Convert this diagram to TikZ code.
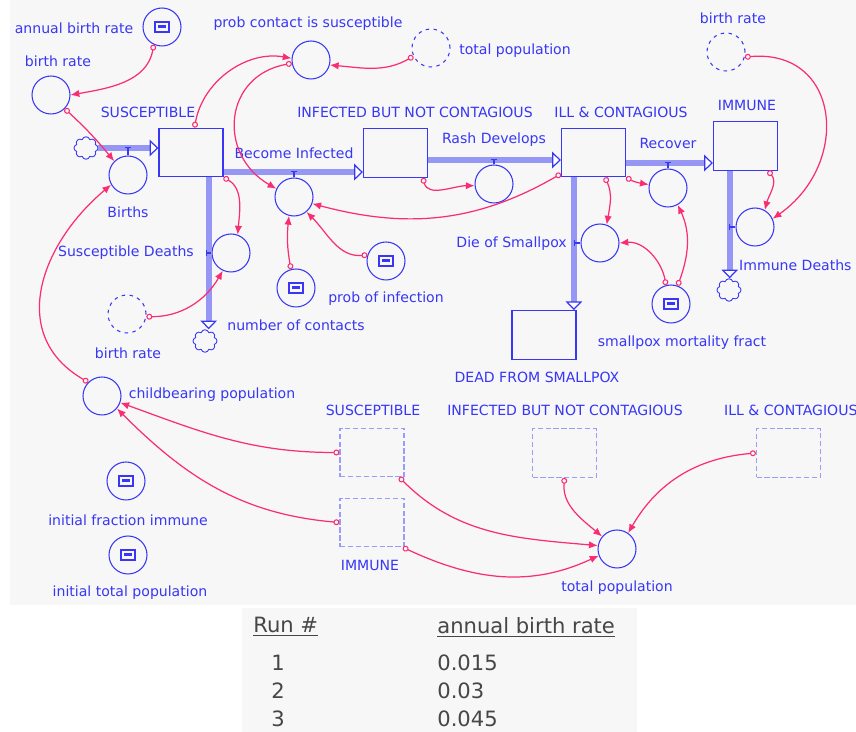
\documentclass[tikz,border=0pt]{standalone}
\usepackage{fontspec}
\setmainfont{DejaVu Sans}
\usetikzlibrary{arrows.meta,shapes.symbols}

\definecolor{sdblue}{RGB}{55,55,245}
\definecolor{sdpipe}{RGB}{150,150,245}
\definecolor{sdpink}{RGB}{250,45,115}
\definecolor{sdback}{RGB}{247,247,247}
\definecolor{tabtext}{RGB}{70,70,70}

\tikzset{
  stock/.style={draw=sdblue, line width=0.7pt, minimum width=1.28cm, minimum height=0.97cm, inner sep=0pt},
  ghoststock/.style={stock, draw=sdblue!50, dash pattern=on 3pt off 1.5pt},
  aux/.style={circle, draw=sdblue, line width=0.6pt, minimum size=0.76cm, inner sep=0pt},
  ghostaux/.style={aux, dash pattern=on 2pt off 2.5pt},
  sdconst/.style={aux, path picture={
      \draw[sdblue, line width=0.8pt] ([shift={(-4pt,-2.8pt)}]path picture bounding box.center) rectangle ([shift={(4pt,2.8pt)}]path picture bounding box.center);
      \fill[sdblue] ([shift={(-2.3pt,-0.6pt)}]path picture bounding box.center) rectangle ([shift={(2.3pt,1.2pt)}]path picture bounding box.center);}},
  sdcloud/.style={cloud, cloud puffs=8, aspect=1, draw=sdblue, line width=0.5pt, minimum width=0.48cm, minimum height=0.45cm, inner sep=0pt},
  txt/.style={text=sdblue, font=\fontsize{8}{9}\selectfont, inner sep=0.5pt},
  pipe/.style={draw=sdpipe, line width=3.6pt, -{Triangle[length=5pt,width=9.5pt,line width=0.7pt,color=sdblue,fill=white]}},
  valve/.style={draw=sdblue, line width=0.8pt},
  link/.style={draw=sdpink, line width=0.7pt, {Circle[open,length=3.4pt,width=3.4pt,line width=0.6pt]}-{Latex[length=5pt,width=4.2pt]}},
  tab/.style={text=tabtext, font=\fontsize{12}{14}\selectfont, inner sep=0pt}
}

\begin{document}
\begin{tikzpicture}[x=0.02cm, y=-0.02cm]
\useasboundingbox (0,0) rectangle (856,732);
\fill[sdback] (10,0) rectangle (856,605);
\fill[sdback] (242,608) rectangle (637,732);

% stocks
\node[stock] (sus) at (191,152.5) {};
\node[stock] (inf) at (395.5,153) {};
\node[stock] (ill) at (593.5,152.5) {};
\node[stock] (imm) at (745.5,146) {};
\node[stock] (dead) at (544,335) {};
\node[sdcloud] (src) at (86,148) {};
\node[sdcloud] (sink1) at (205,341) {};
\node[sdcloud] (sink2) at (729,290) {};

% flows
\node[aux] (births) at (128,175) {};
\node[aux] (becinf) at (294,197) {};
\node[aux] (rash) at (494,184) {};
\node[aux] (recover) at (668,188) {};
\node[aux] (sdeaths) at (231,253) {};
\node[aux] (dos) at (600,243) {};
\node[aux] (imdeaths) at (755,227) {};

\draw[pipe] (src.east) -- (src.east -| sus.west);
\draw[pipe] ([yshift=3pt]sus.south east) -- ([yshift=3pt]sus.south east -| inf.west);
\draw[pipe] ([yshift=-4pt]inf.east) -- ([yshift=-4pt]inf.east -| ill.west);
\draw[pipe] ([yshift=-6pt]ill.east) -- ([yshift=-6pt]ill.east -| imm.west);
\draw[pipe] ([xshift=-8.5pt]sus.south east) -- ([xshift=-8.5pt]sus.south east |- sink1.north);
\draw[pipe] ([xshift=7.4pt]ill.south west) -- ([xshift=7.4pt]ill.south west |- dead.north);
\draw[pipe] ([xshift=9.6pt]imm.south west) -- ([xshift=9.6pt]imm.south west |- sink2.north);

\draw[valve] (births.north) -- ++(0,-8) ++(-3,0) -- ++(6,0);
\draw[valve] (becinf.north) -- ++(0,-6) ++(-3,0) -- ++(6,0);
\draw[valve] (rash.north) -- ++(0,-5) ++(-3,0) -- ++(6,0);
\draw[valve] (recover.north) -- ++(0,-6) ++(-3,0) -- ++(6,0);
\draw[valve] (sdeaths.west) -- ++(-5,0) ++(0,-3) -- ++(0,6);
\draw[valve] (dos.west) -- ++(-6,0) ++(0,-3) -- ++(0,6);
\draw[valve] (imdeaths.west) -- ++(-6,0) ++(0,-3) -- ++(0,6);

% converters
\node[sdconst] (abr) at (162,27) {};
\node[aux] (br1) at (51,95) {};
\node[aux] (pcs) at (311,60) {};
\node[ghostaux] (tpop1) at (431,48) {};
\node[ghostaux] (br2) at (726,52) {};
\node[ghostaux] (br3) at (127,314) {};
\node[sdconst] (noc) at (296,288) {};
\node[sdconst] (poi) at (386,261) {};
\node[sdconst] (smf) at (671,304) {};
\node[aux] (cbp) at (102,396) {};
\node[sdconst] (ifi) at (126,481) {};
\node[sdconst] (itp) at (128,555) {};
\node[aux] (tpop2) at (617,549) {};

% ghost stocks
\node[ghoststock] (sghost) at (372,452.5) {};
\node[ghoststock] (ighost) at (372,522.5) {};
\node[ghoststock] (ifghost) at (564.5,453) {};
\node[ghoststock] (illghost) at (788.5,453) {};

% labels
\node[txt] (labr) at (74,28) {annual birth rate};
\node[txt] (lbr1) at (58,61) {birth rate};
\node[txt] (lsus) at (148,112) {SUSCEPTIBLE};
\node[txt] (lbirths) at (128,212) {Births};
\node[txt] (lpcs) at (308,24) {prob contact is susceptible};
\node[txt] (ltpop1) at (515,51) {total population};
\node[txt] (linf) at (415,112) {INFECTED BUT NOT CONTAGIOUS};
\node[txt] (lbecinf) at (294,153) {Become Infected};
\node[txt] (lrash) at (494,140) {Rash Develops};
\node[txt] (lill) at (621,112) {ILL \& CONTAGIOUS};
\node[txt] (lrecover) at (668,143) {Recover};
\node[txt] (limm) at (747,105) {IMMUNE};
\node[txt] (lbr2) at (733,18) {birth rate};
\node[txt, anchor=east] (lsdeaths) at (195,253) {Susceptible Deaths};
\node[txt, anchor=east] (ldos) at (568,244) {Die of Smallpox};
\node[txt, anchor=west] (limdeaths) at (738,265) {Immune Deaths};
\node[txt] (lbr3) at (128,353) {birth rate};
\node[txt] (lnoc) at (296,325) {number of contacts};
\node[txt] (lpoi) at (386,299) {prob of infection};
\node[txt] (lsmf) at (682,343) {smallpox mortality fract};
\node[txt] (ldead) at (537,377) {DEAD FROM SMALLPOX};
\node[txt] (lcbp) at (212,395) {childbearing population};
\node[txt] (lsghost) at (373,410) {SUSCEPTIBLE};
\node[txt] (lifghost) at (565,410) {INFECTED BUT NOT CONTAGIOUS};
\node[txt, anchor=west] (lillghost) at (723,410) {ILL \& CONTAGIOUS};
\node[txt] (lighost) at (370,565) {IMMUNE};
\node[txt] (lifi) at (128,520) {initial fraction immune};
\node[txt] (litp) at (130,593) {initial total population};
\node[txt] (ltpop2) at (617,588) {total population};

% connectors
\draw[link] (abr.-115) to[out=-100,in=10] (br1.east);
\draw[link] (br1.-45) to[bend left=4] (births.135);
\draw[link] ([xshift=2pt]sus.north) to[out=80,in=170] (pcs.175);
\draw[link] (pcs.190) to[out=190,in=150,looseness=1.4] (becinf.155);
\draw[link] (tpop1.205) to[out=210,in=-5] (pcs.-15);
\draw[link] ([xshift=-3pt]inf.south east) to[out=-75,in=180] (rash.185);
\draw[link] ([yshift=2pt]ill.south west) to[out=210,in=-15] (becinf.-20);
\draw[link] (sus.south east) to[out=-30,in=85] (sdeaths.70);
\draw[link] (br3.-8) to[out=0,in=-120] (sdeaths.-115);
\draw[link] (noc.105) to[bend left=8] (becinf.-105);
\draw[link] (poi.162) to[out=185,in=-45] (becinf.-50);
\draw[link] ([xshift=6.5pt]ill.south) to[out=-65,in=80] (dos.70);
\draw[link] (ill.south east) to[out=-30,in=170] (recover.170);
\draw[link] (smf.105) to[out=100,in=5] (dos.east);
\draw[link] (smf.70) to[out=70,in=-65] (recover.-60);
\draw[link] ([xshift=-5.7pt]imm.south east) to[out=-50,in=75] (imdeaths.60);
\draw[link] (br2.-15) to[out=5,in=35,looseness=1.5] (imdeaths.25);
\draw[link] (cbp.135) to[out=150,in=-140,looseness=1.2] (births.-150);
\draw[link] (sghost.west) to[out=180,in=-20] (cbp.-20);
\draw[link] (ighost.west) to[out=175,in=-45] (cbp.-40);
\draw[link] ([xshift=-3pt]sghost.south east) to[out=-45,in=175] (tpop2.170);
\draw[link] ([xshift=-1pt]ighost.south east) to[out=-25,in=-155] (tpop2.-160);
\draw[link] (ifghost.south) to[out=-95,in=140] (tpop2.140);
\draw[link] (illghost.west) to[out=185,in=60] (tpop2.55);

% table
\node[tab, anchor=west] (runhd) at (253,627) {\underline{Run \#}};
\node[tab, anchor=west] (ratehd) at (437,627) {\underline{annual birth rate}};
\node[tab] (run1) at (278,663) {1};
\node[tab] (run2) at (278,691) {2};
\node[tab] (run3) at (278,719) {3};
\node[tab, anchor=west] (rate1) at (437,663) {0.015};
\node[tab, anchor=west] (rate2) at (437,691) {0.03};
\node[tab, anchor=west] (rate3) at (437,719) {0.045};
\end{tikzpicture}
\end{document}
